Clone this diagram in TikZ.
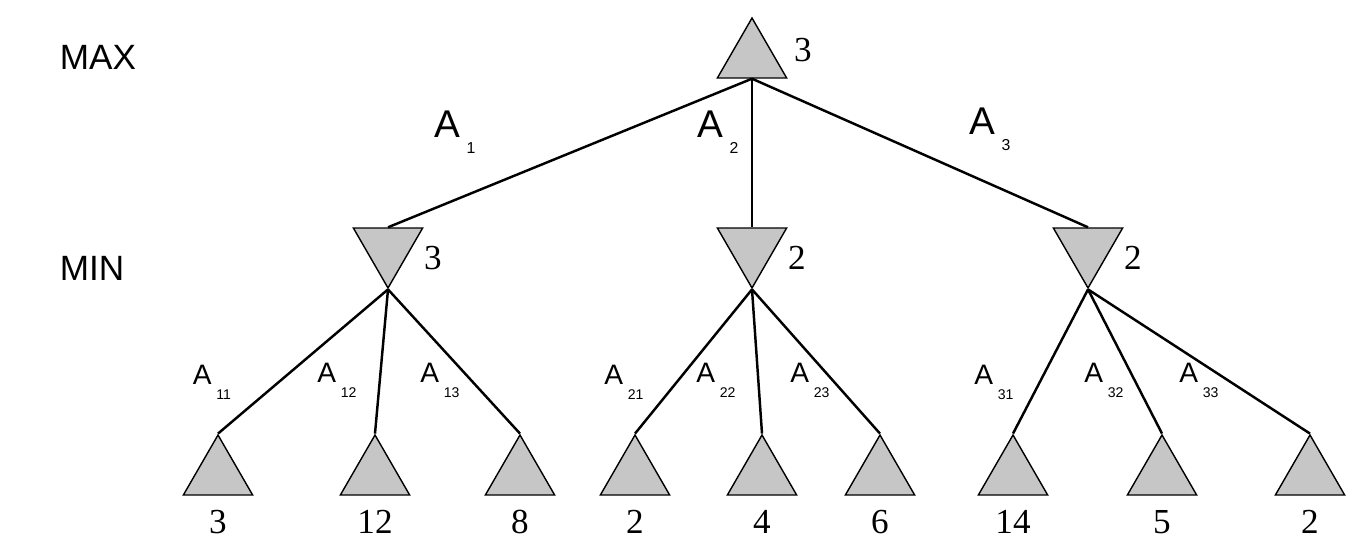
\documentclass[tikz,border=0pt]{standalone}
\usepackage{fontspec}
\setmainfont{Liberation Serif}
\setsansfont{Liberation Sans}
\usetikzlibrary{shapes.geometric}
\tikzset{
  maxnode/.style={regular polygon, regular polygon sides=3, draw, fill=gray!45,
    inner sep=0pt, minimum size=1.6cm, line width=0.8pt},
  minnode/.style={maxnode, shape border rotate=180},
  lvl/.style={font=\sffamily\fontsize{20}{22}\selectfont},
  act/.style={font=\sffamily\fontsize{22}{24}\selectfont, inner sep=0pt},
  subact/.style={font=\sffamily\fontsize{16}{18}\selectfont, inner sep=0pt},
  val/.style={font=\fontsize{20}{22}\selectfont, inner sep=0pt},
  branch/.style={line width=1.4pt}
}
\begin{document}
\begin{tikzpicture}[x=0.02cm,y=-0.02cm]
  \useasboundingbox (0,0) rectangle (1364,550);
  \node[lvl] (maxlbl) at (98,57) {MAX};
  \node[lvl] (minlbl) at (92,268) {MIN};

  \node[maxnode] (root) at (752,58) {};
  \node[val] (root-v) at (803,50) {3};

  \foreach \i/\x/\v in {1/388/3,2/752/2,3/1088/2} {
    \node[minnode] (m\i) at (\x,248) {};
    \node[val] (m\i-v) at (\x+45,258) {\v};
    \draw[branch] (root.south) -- (m\i.north);
  }
  \node[act] (a1) at (455,132) {A\,\raisebox{-0.8ex}{\small 1}};
  \node[act] (a2) at (718,132) {A\,\raisebox{-0.8ex}{\small 2}};
  \node[act] (a3) at (990,129) {A\,\raisebox{-0.8ex}{\small 3}};

  \foreach \p/\j/\x/\v/\lx/\ly in {
      1/1/218/3/212/382, 1/2/375/12/337/380, 1/3/520/8/440/380,
      2/1/635/2/624/382, 2/2/762/4/716/380, 2/3/880/6/810/380,
      3/1/1013/14/994/382, 3/2/1162/5/1104/380, 3/3/1310/2/1199/380} {
    \node[maxnode] (l\p\j) at (\x,475) {};
    \node[val] (l\p\j-v) at (\x,522) {\v};
    \draw[branch] (m\p.corner 1) -- (l\p\j.corner 1);
    \node[subact] (a\p\j) at (\lx,\ly) {A\,\raisebox{-1.0ex}{\footnotesize\p\j}};
  }
\end{tikzpicture}
\end{document}
